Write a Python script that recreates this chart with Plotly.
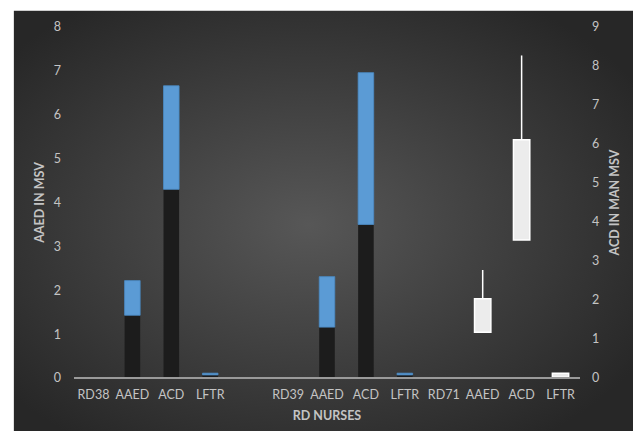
import base64
import plotly.graph_objects as go

# ---- data ----
categories = ["RD38", "AAED", "ACD", "LFTR", "", "RD39", "AAED", "ACD", "LFTR",
              "RD71", "AAED", "ACD", "LFTR"]
# stacked bars on left axis (AAED IN MSV)
lower_values = [None, 1.43, 4.30, 0.07, None, None, 1.16, 3.50, 0.07, None, None, None, None]
upper_values = [None, 0.79, 2.36, 0.04, None, None, 1.15, 3.46, 0.04, None, None, None, None]
# floating boxes on right axis (ACD IN MAN MSV)
box_low = [None] * 10 + [1.17, 3.54, 0.02]
box_high = [None] * 10 + [2.03, 6.11, 0.12]
whisker_high = [None] * 10 + [2.77, 8.27, 0.12]

left_ticks = [0, 1, 2, 3, 4, 5, 6, 7, 8]
right_ticks = [0, 1, 2, 3, 4, 5, 6, 7, 8, 9]

x_pos = list(range(len(categories)))
box_size = [None if lo is None else hi - lo for lo, hi in zip(box_low, box_high)]
whisker = [None if hi is None else w - hi for hi, w in zip(box_high, whisker_high)]

TICK = "#c4c4c4"
FONT = "Lato"

fig = go.Figure()
fig.add_trace(go.Bar(x=x_pos, y=lower_values, width=0.4, yaxis="y",
                     marker=dict(color="#1c1c1c", line=dict(width=0)),
                     showlegend=False))
fig.add_trace(go.Bar(x=x_pos, y=upper_values, base=lower_values, width=0.4, yaxis="y",
                     marker=dict(color="#5b9bd5", line=dict(color="#4a8ac4", width=0.8)),
                     showlegend=False))
fig.add_trace(go.Bar(x=x_pos, y=box_size, base=box_low, width=0.42, yaxis="y2",
                     marker=dict(color="#ececec", line=dict(color="#ffffff", width=1.5)),
                     error_y=dict(type="data", symmetric=False, array=whisker,
                                  arrayminus=[0] * len(whisker), color="#ffffff",
                                  thickness=1.5, width=0),
                     showlegend=False))

svg = ("<svg xmlns='http://www.w3.org/2000/svg' width='628' height='429' preserveAspectRatio='none'>"
       "<defs><radialGradient id='g' cx='0.47' cy='0.50' r='0.62'>"
       "<stop offset='0' stop-color='#575757'/><stop offset='1' stop-color='#272727'/>"
       "</radialGradient></defs><rect width='628' height='429' fill='url(#g)'/></svg>")
src = "data:image/svg+xml;base64," + base64.b64encode(svg.encode()).decode()

OFF = 8  # page body margin
W, H = 641 - 2 * OFF, 439 - 2 * OFF
L, R, T, B = 73.5 - OFF, 580.5 - OFF, 26.5 - OFF, 378.3 - OFF
pw, ph = R - L, B - T

def px_x(px):
    return (px - OFF - L) / pw

def px_y(py):
    return (B - (py - OFF)) / ph

fig.add_layout_image(dict(source=src, xref="paper", yref="paper",
                          x=px_x(13), y=px_y(10),
                          sizex=(641 - 13) / pw, sizey=(439 - 10) / ph,
                          sizing="stretch", xanchor="left", yanchor="top",
                          layer="below"))

# category-axis baseline
fig.add_shape(type="line", xref="paper", yref="paper", x0=0, x1=1, y0=0, y1=0,
              line=dict(color="#9a9a9a", width=1.8), layer="above")

fig.update_layout(
    width=W, height=H,
    margin=dict(l=L, r=W - R, t=T, b=H - B, pad=0),
    paper_bgcolor="white", plot_bgcolor="rgba(0,0,0,0)",
    barmode="overlay",
    font=dict(family=FONT, color=TICK, size=12),
    xaxis=dict(range=[-0.5, len(categories) - 0.5], tickvals=x_pos, ticktext=categories,
               showgrid=False, zeroline=False, showline=False, ticks="", automargin=False,
               tickfont=dict(size=12.5, color=TICK, family=FONT), ticklabelstandoff=7,
               title=dict(text="<b>RD NURSES</b>", standoff=10,
                          font=dict(size=12.5, color=TICK, family=FONT))),
    yaxis=dict(range=[0, 8], tickvals=left_ticks, showgrid=False, zeroline=False,
               showline=False, ticks="", automargin=False,
               tickfont=dict(size=12.5, color=TICK, family=FONT), ticklabelstandoff=12,
               title=dict(text="<b>AAED IN MSV</b>", standoff=6,
                          font=dict(size=12.5, color=TICK, family=FONT))),
    yaxis2=dict(range=[0, 9], tickvals=right_ticks, overlaying="y", side="right",
                showgrid=False, zeroline=False, showline=False, ticks="", automargin=False,
                tickfont=dict(size=12.5, color=TICK, family=FONT), ticklabelstandoff=11,
                title=dict(text="<b>ACD IN MAN MSV</b>", standoff=11,
                           font=dict(size=12.5, color=TICK, family=FONT))),
)

fig.write_html("out.html")
